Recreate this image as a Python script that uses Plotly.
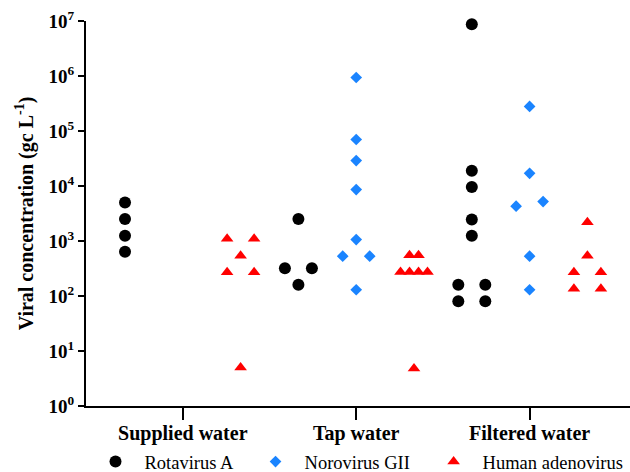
import numpy as np
import plotly.graph_objects as go

# ---------------- data ----------------
groups = ["Supplied water", "Tap water", "Filtered water"]
series_names = ["Rotavirus A", "Norovirus GII", "Human adenovirus"]

rotavirus_a = [
    [5000, 2500, 1250, 640],
    [2500, 320, 320, 160],
    [8.7e6, 19000, 9600, 2450, 1250, 160, 160, 80, 80],
]
norovirus_gii = [
    [],
    [940000, 70000, 29000, 8600, 1060, 530, 530, 130],
    [280000, 17000, 5200, 4300, 530, 130],
]
human_adenovirus = [
    [1100, 1100, 540, 270, 270, 5],
    [550, 550, 273, 273, 273, 273, 4.8],
    [2200, 540, 270, 270, 135, 135],
]
y_exponents = [0, 1, 2, 3, 4, 5, 6, 7]

# ---------------- styles ----------------
colors = ["#000000", "#1a84ff", "#ff0000"]
symbols = ["circle", "diamond", "triangle-up"]
sizes = [12, 9, 11]
legend_x = [0.1373, 0.3913, 0.674]   # container fractions of each legend entry


def scatter_offsets(values, thr=0.2, span=0.467):
    """Prism-like column scatter: values closer than thr decades share a row
    and are spread horizontally around the column centre."""
    order = sorted(range(len(values)), key=lambda i: values[i])
    bins = []
    for i in order:
        if bins and np.log10(values[i]) - np.log10(values[bins[-1][0]]) < thr:
            bins[-1].append(i)
        else:
            bins.append([i])
    kmax = max((len(b) for b in bins), default=1)
    step = span / (kmax - 1) if kmax > 1 else 0.0
    offs = [0.0] * len(values)
    for b in bins:
        k = len(b)
        for j, i in enumerate(b):
            offs[i] = (j - (k - 1) / 2) * step
    return offs


serif = "Liberation Serif, Times New Roman, serif"

fig = go.Figure()
all_series = [rotavirus_a, norovirus_gii, human_adenovirus]
n_series = len(all_series)
legend_layout = {}
for s, (name, series) in enumerate(zip(series_names, all_series)):
    xs, ys = [], []
    for g, vals in enumerate(series):
        offs = scatter_offsets(vals)
        for v, o in zip(vals, offs):
            xs.append(g * n_series + s + o)
            ys.append(v)
    lg = "legend" if s == 0 else "legend%d" % (s + 1)
    fig.add_trace(go.Scatter(
        x=xs, y=ys, mode="markers", name=name, legend=lg,
        marker=dict(color=colors[s], symbol=symbols[s], size=sizes[s],
                    line=dict(width=0)),
        cliponaxis=False,
    ))
    legend_layout[lg] = dict(
        orientation="h", xref="container", yref="container",
        x=legend_x[s], xanchor="left", y=0.021, yanchor="middle",
        font=dict(family=serif, size=18.5, color="black"),
        itemwidth=48, bgcolor="rgba(0,0,0,0)",
    )

fig.update_layout(
    width=630, height=472,
    margin=dict(l=86, r=0, t=21, b=66, autoexpand=False),
    paper_bgcolor="white", plot_bgcolor="white",
    font=dict(family=serif, color="black"),
    showlegend=True,
    **legend_layout,
)

fig.update_xaxes(
    range=[-0.675, 8.737],
    tickmode="array",
    tickvals=[g * n_series + (n_series - 1) / 2 for g in range(len(groups))],
    ticktext=["<b>%s</b>" % t for t in groups],
    tickfont=dict(family=serif, size=20, color="black"),
    showline=True, linecolor="black", linewidth=2,
    ticks="outside", ticklen=12, tickwidth=2, tickcolor="black",
    ticklabelstandoff=-4,
    showgrid=False, zeroline=False, automargin=False,
)

fig.update_yaxes(
    type="log",
    range=[y_exponents[0], y_exponents[-1]],
    tickmode="array",
    tickvals=[10 ** e for e in y_exponents],
    ticktext=["<b>10<sup>%d</sup></b>" % e for e in y_exponents],
    tickfont=dict(family=serif, size=19, color="black"),
    showline=True, linecolor="black", linewidth=2,
    ticks="outside", ticklen=6, tickwidth=2, tickcolor="black",
    showgrid=False, zeroline=False, automargin=False,
    title=dict(text="<b>Viral concentration (gc L<sup>-1</sup>)</b>",
               font=dict(family=serif, size=20, color="black"), standoff=10),
)

fig.write_html(
    "out.html",
    config={"displayModeBar": False},
    post_script="document.body.style.margin='0';document.body.style.overflow='hidden';",
)
